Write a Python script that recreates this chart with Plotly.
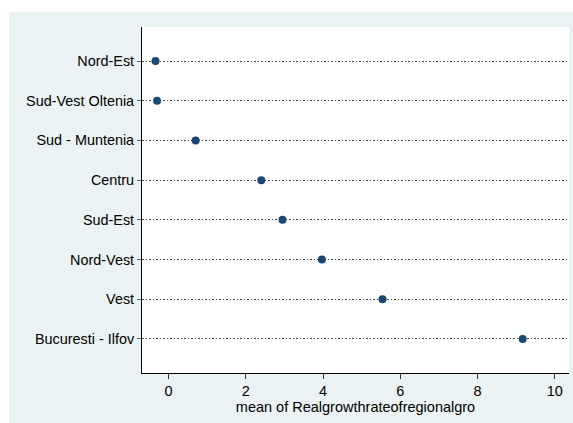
import plotly.graph_objects as go

regions = ["Nord-Est", "Sud-Vest Oltenia", "Sud - Muntenia", "Centru", "Sud-Est",
           "Nord-Vest", "Vest", "Bucuresti - Ilfov"]
mean_growth = [-0.34, -0.30, 0.70, 2.40, 2.95, 3.97, 5.54, 9.17]
x_ticks = [0, 2, 4, 6, 8, 10]

W, H = 573, 423
L, R, T, B = 142, 4, 27, 50
pw, ph = W - L - R, H - T - B

fig = go.Figure()
fig.add_trace(go.Scatter(
    x=mean_growth, y=list(range(len(regions))), mode="markers",
    marker=dict(color="#1A476F", size=8, line=dict(width=0)),
    cliponaxis=False, showlegend=False, hoverinfo="skip"))

# background box (Stata ltbluishgray)
fig.add_shape(type="rect", xref="paper", yref="paper", layer="below",
              x0=(9 - L) / pw, x1=(W - L) / pw,
              y0=(H - B - H) / ph, y1=(H - B - 12) / ph,
              fillcolor="#EAF2F3", line=dict(width=0))
# white plot region
fig.add_shape(type="rect", xref="paper", yref="paper", layer="below",
              x0=0, x1=1, y0=0, y1=1, fillcolor="white", line=dict(width=0))

font = dict(family="Liberation Sans, Arial, sans-serif", size=14.5, color="#000")
fig.update_layout(
    width=W, height=H, margin=dict(l=L, r=R, t=T, b=B),
    paper_bgcolor="white", plot_bgcolor="white", font=font,
    xaxis=dict(range=[-0.69, 10.37], tickvals=x_ticks, showgrid=False, zeroline=False,
               showline=True, linecolor="black", linewidth=1, ticks="outside",
               ticklen=5, tickcolor="#333", tickfont=dict(size=14.5),
               title=dict(text="mean of Realgrowthrateofregionalgro", standoff=2,
                          font=dict(size=14.5))),
    yaxis=dict(range=[7.857, -0.857], tickvals=list(range(len(regions))), ticktext=regions,
               showgrid=True, gridcolor="#444", gridwidth=1, griddash="1.5px,2px",
               zeroline=False, showline=True, linecolor="black", linewidth=1,
               ticks="outside", ticklen=4, tickcolor="#666", tickfont=dict(size=14.4)),
)
fig.write_html("out.html", config={"displayModeBar": False},
               post_script="document.body.style.margin='0';document.body.style.padding='0';")
